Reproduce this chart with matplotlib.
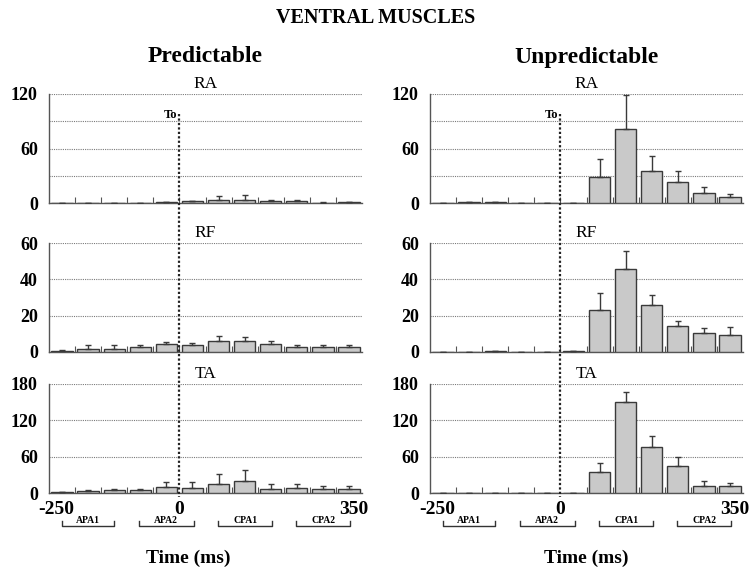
import matplotlib.pyplot as plt
import matplotlib.transforms as mtransforms
from matplotlib.lines import Line2D

plt.rcParams['font.family'] = ['Liberation Serif', 'DejaVu Serif']

# 12 bins of 50 ms from -250 to 350 ms (bin centres)
bins = [-225, -175, -125, -75, -25, 25, 75, 125, 175, 225, 275, 325]

# mean activity and SD, predictable condition
pred_ra = [0, 0, 0, 0, 0.8, 1.7, 3.5, 3.5, 2.5, 2.5, 0.5, 0.8]
pred_ra_sd = [0, 0, 0, 0, 0.7, 0.3, 4.5, 4.8, 1.0, 1.0, 0.4, 0.3]
pred_rf = [0.5, 1.8, 1.8, 2.6, 4.2, 3.7, 6.0, 6.0, 4.2, 2.9, 2.9, 2.6]
pred_rf_sd = [0.4, 1.9, 1.9, 1.1, 1.3, 1.4, 2.8, 2.3, 1.9, 1.1, 1.1, 1.1]
pred_ta = [1, 3.3, 5, 5, 10, 8.3, 15, 19.4, 6.7, 8.3, 6.7, 6.7]
pred_ta_sd = [1, 1.7, 1.7, 1.7, 8, 9.7, 17, 18, 8.3, 6.7, 5.3, 5.3]

# mean activity and SD, unpredictable condition
unpred_ra = [0.5, 1, 1, 0.5, 0.5, 0.5, 28.6, 81.8, 35.2, 23.1, 10.6, 6.6]
unpred_ra_sd = [0, 0, 0, 0, 0, 0, 20.2, 37.2, 16.6, 12.1, 7.0, 3.7]
unpred_rf = [0, 0, 0.3, 0, 0, 0.3, 22.9, 45.9, 25.7, 14.1, 10.5, 9.5]
unpred_rf_sd = [0, 0, 0, 0, 0, 0, 9.8, 9.7, 5.8, 3.0, 2.7, 4.3]
unpred_ta = [0, 0, 0, 0, 0, 0, 33.9, 150.6, 76.7, 44.4, 11.7, 11.1]
unpred_ta_sd = [0, 0, 0, 0, 0, 0, 15, 16.4, 17.7, 15.6, 8.3, 5.6]

muscles = ['RA', 'RF', 'TA']
ylims = [120, 60, 180]
ylabels = [[0, 60, 120], [0, 20, 40, 60], [0, 60, 120, 180]]
ygrids = [[30, 60, 90, 120], [20, 40, 60], [60, 120, 180]]

phases = ['APA1', 'APA2', 'CPA1', 'CPA2']
phase_spans = [(-225, -125), (-78, 27), (74, 178), (224, 327)]

conditions = [
    ('Predictable', [(pred_ra, pred_ra_sd), (pred_rf, pred_rf_sd), (pred_ta, pred_ta_sd)]),
    ('Unpredictable', [(unpred_ra, unpred_ra_sd), (unpred_rf, unpred_rf_sd), (unpred_ta, unpred_ta_sd)]),
]

W, H = 752, 570
fig = plt.figure(figsize=(W / 100, H / 100), dpi=100)

col_left = [49, 430]
col_width = 313
row_top = [94, 243, 384]
row_height = 109

fig.text(0.5, 1 - 18 / H, 'VENTRAL MUSCLES', ha='center', va='center',
         fontsize=14.5, fontweight='bold')

for c, (cond, series) in enumerate(conditions):
    x0 = col_left[c]
    fig.text((x0 + col_width / 2) / W, 1 - 57 / H, cond, ha='center', va='center',
             fontsize=17, fontweight='bold')
    axes = []
    for r, (vals, sd) in enumerate(series):
        ax = fig.add_axes([x0 / W, 1 - (row_top[r] + row_height) / H,
                           col_width / W, row_height / H])
        axes.append(ax)
        ax.bar(bins, vals, width=41, color='#c9c9c9', edgecolor='#3a3a3a',
               linewidth=1.0, zorder=3)
        ax.errorbar(bins, vals, yerr=[[0] * len(sd), sd], fmt='none',
                    ecolor='#3a3a3a', elinewidth=1.0, capsize=2, capthick=1.0, zorder=4)
        ax.set_xlim(-250, 350)
        ax.set_ylim(0, ylims[r])
        for g in ygrids[r]:
            ax.axhline(g, color='#7a7a7a', linestyle=(0, (1, 1)), linewidth=0.8, zorder=1)
        ax.set_yticks(ylabels[r])
        ax.set_yticklabels([str(v) for v in ylabels[r]], fontsize=13, fontweight='bold')
        ax.tick_params(axis='y', length=0, pad=8)
        # small inward ticks at the bin edges
        ax.set_xticks(range(-200, 350, 50), minor=True)
        ax.tick_params(axis='x', which='minor', direction='in', length=4,
                       color='#555555', width=0.8)
        for side in ['top', 'right']:
            ax.spines[side].set_visible(False)
        for side in ['left', 'bottom']:
            ax.spines[side].set_color('#555555')
            ax.spines[side].set_linewidth(1.0)
        ax.text(0.5, 1 + 10 / row_height, muscles[r], transform=ax.transAxes,
                ha='center', va='center', fontsize=12.5)
        if r < 2:
            ax.set_xticks([])
        else:
            ax.set_xticks([-250, 0, 350])
            ax.set_xticklabels(['-250', '0', '350'], fontsize=14, fontweight='bold')
            ax.tick_params(axis='x', which='major', length=0, pad=6)
            shifts = [7, 0, -8]
            for lab, dx in zip(ax.get_xticklabels(), shifts):
                lab.set_transform(lab.get_transform() +
                                  mtransforms.ScaledTranslation(dx / 100, 0, fig.dpi_scale_trans))
            # phase brackets under the time axis
            tr = ax.get_xaxis_transform()
            for name, (a, b) in zip(phases, phase_spans):
                ax.plot([a, a, b, b], [-0.26, -0.30, -0.30, -0.26], transform=tr,
                        color='#333333', linewidth=1.0, clip_on=False)
                ax.text((a + b) / 2, -0.255, name, transform=tr, ha='center',
                        va='center', fontsize=7, fontweight='bold')
            xlab_x = 0.444 if c == 0 else 0.5
            ax.text(xlab_x, -0.60, 'Time (ms)', transform=ax.transAxes, ha='center',
                    va='center', fontsize=14, fontweight='bold')

    # onset line at 0 running through all three muscles
    blend = mtransforms.blended_transform_factory(axes[0].transData, fig.transFigure)
    fig.add_artist(Line2D([0, 0], [1 - 114 / H, 1 - 497 / H], transform=blend,
                          color='#222222', linestyle=(0, (1, 1)), linewidth=1.6))
    axes[0].text(-5, 97, 'To', ha='right', va='center', fontsize=9, fontweight='bold')

fig.savefig('out.png', dpi=100)
